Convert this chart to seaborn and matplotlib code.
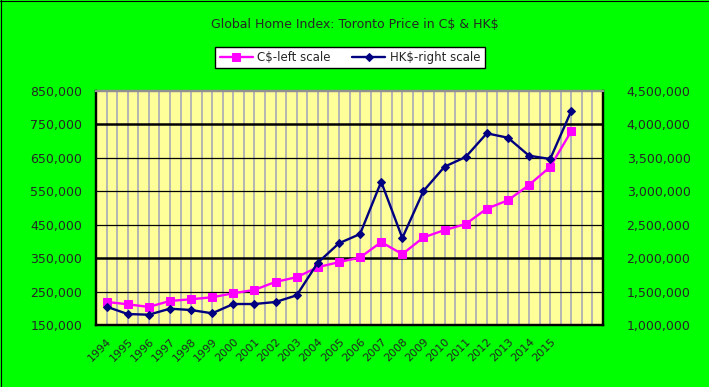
import numpy as np
import pandas as pd
import matplotlib
matplotlib.use("Agg")
import matplotlib.pyplot as plt
import seaborn as sns
from matplotlib.ticker import FuncFormatter, FixedLocator
from matplotlib.lines import Line2D

# ---- data ----
years = [str(y) for y in range(1994, 2017)]
tick_labels = [str(y) for y in range(1994, 2016)]
cad_price = [219000, 212000, 204000, 222000, 227000, 233000, 245000, 255000,
             279000, 293000, 323000, 338000, 352000, 398000, 362000, 412000,
             434000, 452000, 498000, 523000, 569000, 623000, 730000]
hkd_price = [1274000, 1164000, 1154000, 1244000, 1224000, 1175000, 1314000,
             1314000, 1344000, 1444000, 1932000, 2222000, 2361000, 3143000,
             2301000, 3004000, 3368000, 3513000, 3867000, 3801000, 3532000,
             3483000, 4203000]
left_ticks = [150000, 250000, 350000, 450000, 550000, 650000, 750000, 850000]
right_ticks = [1000000, 1500000, 2000000, 2500000, 3000000, 3500000, 4000000, 4500000]
title = r"Global Home Index: Toronto Price in C\$ & HK\$"
label_cad = r"C\$-left scale"
label_hkd = r"HK\$-right scale"

df = pd.DataFrame({"idx": np.arange(len(years)), "year": years,
                   "cad": cad_price, "hkd": hkd_price})

sns.set_style("white")
plt.rcParams["font.family"] = ["DejaVu Sans"]

fig = plt.figure(figsize=(7.09, 3.87), dpi=100, facecolor="#00FF00")
ax = fig.add_axes([96 / 709, 62 / 387, 507 / 709, 234 / 387])
ax.set_facecolor("#FFFF99")
ax2 = ax.twinx()

n_slots = 24
ax.set_xlim(-0.5, n_slots - 0.5)
ax.set_ylim(left_ticks[0], left_ticks[-1])
ax2.set_ylim(right_ticks[0], right_ticks[-1])

# vertical gray grid
for xv in np.arange(-0.5, n_slots, 0.5):
    ax.axvline(xv, color="#B4B4B4", lw=1.4, zorder=0.5)
# horizontal black grid
for yv in left_ticks[1:-1]:
    lw = 1.8 if yv in (350000, 750000) else 0.9
    ax.axhline(yv, color="black", lw=lw, zorder=0.6)

sns.lineplot(data=df, x="idx", y="cad", ax=ax, color="#FF00FF", lw=1.7,
             marker="s", markersize=6.2, markeredgecolor="#FF00FF",
             label=label_cad, legend=False, zorder=3)
sns.lineplot(data=df, x="idx", y="hkd", ax=ax2, color="#000080", lw=1.7,
             marker="D", markersize=4.3, markeredgecolor="#000080",
             label=label_hkd, legend=False, zorder=3)

fmt = FuncFormatter(lambda v, p: f"{int(v):,}")
ax.set_yticks(left_ticks)
ax.yaxis.set_major_formatter(fmt)
ax2.set_yticks(right_ticks)
ax2.yaxis.set_major_formatter(fmt)
ax.tick_params(axis="y", labelsize=9, length=0, pad=10)
ax2.tick_params(axis="y", labelsize=9, length=0, pad=17)

ax.set_xticks(np.arange(len(tick_labels)))
ax.set_xticklabels(tick_labels, rotation=45, ha="right", rotation_mode="anchor",
                   fontsize=8)
ax.tick_params(axis="x", length=0, pad=8)
ax.xaxis.set_minor_locator(FixedLocator(np.arange(-0.5, n_slots, 1)))
ax.tick_params(axis="x", which="minor", length=4, direction="in", color="black", width=1)

ax.set_xlabel("")
ax.set_ylabel("")
ax2.set_ylabel("")

for a in (ax, ax2):
    for side in ("left", "right", "bottom"):
        a.spines[side].set_color("black")
        a.spines[side].set_linewidth(1.6)
    a.spines["top"].set_color("#909090")
    a.spines["top"].set_linewidth(1.6)

fig.text(0.5, 1 - 24 / 387, title, ha="center", va="center", fontsize=9)

h1, l1 = ax.get_legend_handles_labels()
h2, l2 = ax2.get_legend_handles_labels()
leg = fig.legend(h1 + h2, l1 + l2, loc="center", ncol=2,
                 bbox_to_anchor=(350 / 709, 1 - 57.5 / 387), frameon=True,
                 fancybox=False, edgecolor="black", facecolor="white",
                 framealpha=1, fontsize=8.5, handlelength=2.8, columnspacing=1.8,
                 handletextpad=0.4, borderpad=0.35)
leg.get_frame().set_linewidth(1)

# thin black frame at top and left of the figure
fig.add_artist(Line2D([0, 1], [1 - 0.5 / 387, 1 - 0.5 / 387], transform=fig.transFigure,
                      color="black", lw=0.8))
fig.add_artist(Line2D([0.5 / 709, 0.5 / 709], [0, 1], transform=fig.transFigure,
                      color="black", lw=0.8))

fig.savefig("out.png", dpi=100, facecolor=fig.get_facecolor())
